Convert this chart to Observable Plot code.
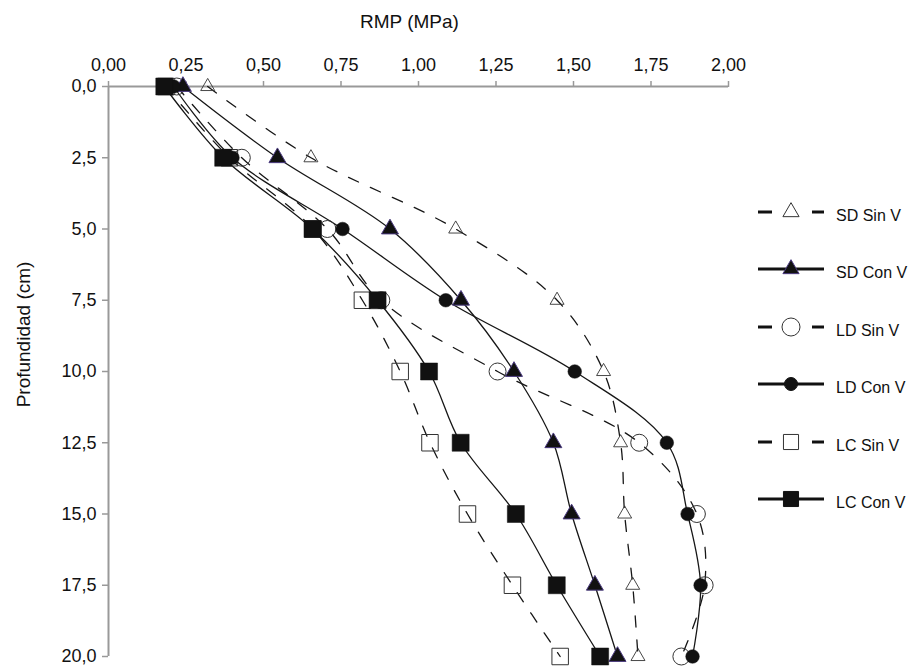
<!DOCTYPE html>
<html><head><meta charset="utf-8">
<script src="https://cdn.jsdelivr.net/npm/d3@7"></script>
<script src="https://cdn.jsdelivr.net/npm/@observablehq/plot@0.6"></script>
<style>
body{margin:0;background:#fff;}
#wrap{position:relative;width:912px;height:666px;font-family:"Liberation Sans",Arial,sans-serif;color:#111;}
#wrap svg{position:absolute;left:0;top:0;}
</style></head><body><div id="wrap"></div>
<script>
// Depths (cm)
const depths = [0, 2.5, 5, 7.5, 10, 12.5, 15, 17.5, 20];
// RMP values (MPa) per series
const sdSinV = [0.32, 0.653, 1.12, 1.447, 1.597, 1.652, 1.665, 1.691, 1.708];
const sdConV = [0.24, 0.545, 0.908, 1.137, 1.308, 1.435, 1.494, 1.569, 1.642];
const ldSinV = [0.22, 0.43, 0.706, 0.88, 1.255, 1.712, 1.898, 1.923, 1.848];
const ldConV = [0.21, 0.40, 0.755, 1.088, 1.504, 1.801, 1.868, 1.91, 1.884];
const lcSinV = [0.185, 0.39, 0.66, 0.819, 0.941, 1.037, 1.158, 1.303, 1.457];
const lcConV = [0.18, 0.37, 0.658, 0.868, 1.034, 1.136, 1.314, 1.446, 1.586];
const seriesNames = ["SD Sin V", "SD Con V", "LD Sin V", "LD Con V", "LC Sin V", "LC Con V"];
const xTicks = [0, 0.25, 0.5, 0.75, 1, 1.25, 1.5, 1.75, 2];
const yTicks = [0, 2.5, 5, 7.5, 10, 12.5, 15, 17.5, 20];
const xLabel = "RMP (MPa)";
const yLabel = "Profundidad (cm)";

const FONT = '"Liberation Sans",Arial,sans-serif';
const valuesBy = [sdSinV, sdConV, ldSinV, ldConV, lcSinV, lcConV];
const styles = {
  "SD Sin V": {dash: true, symbol: "triangle", r: 5.2, fill: "none", stroke: "#333", sw: 0.9},
  "SD Con V": {dash: false, symbol: "triangle", r: 6.3, fill: "#111", stroke: "#4b3b80", sw: 1},
  "LD Sin V": {dash: true, symbol: "circle", r: 8.5, fill: "none", stroke: "#333", sw: 1},
  "LD Con V": {dash: false, symbol: "circle", r: 6.8, fill: "#111", stroke: "#111", sw: 0.5},
  "LC Sin V": {dash: true, symbol: "square", r: 9.3, fill: "none", stroke: "#333", sw: 1},
  "LC Con V": {dash: false, symbol: "square", r: 9.6, fill: "#111", stroke: "#111", sw: 0.5}
};
const data = seriesNames.map((name, i) => depths.map((d, j) => ({series: name, depth: d, rmp: valuesBy[i][j]})));
const comma = (f) => (v) => d3.format(f)(v).replace(".", ",");

const lineMarks = data.map((rows, i) => {
  const s = styles[seriesNames[i]];
  return Plot.line(rows, {x: "rmp", y: "depth", curve: "catmull-rom", stroke: "#161616", strokeWidth: 1.3,
    strokeDasharray: s.dash ? "11,13" : null});
});
const dotOrder = [0, 2, 4, 1, 3, 5];
const dotMarks = dotOrder.map((i) => {
  const s = styles[seriesNames[i]];
  return Plot.dot(data[i], {x: "rmp", y: "depth", symbol: s.symbol, r: s.r, fill: s.fill, stroke: s.stroke, strokeWidth: s.sw});
});

const chart = Plot.plot({
  width: 912, height: 666,
  marginLeft: 108, marginRight: 184, marginTop: 86, marginBottom: 10,
  style: {fontFamily: FONT, fontSize: "18px", color: "#111", background: "transparent"},
  x: {domain: [0, 2]},
  y: {domain: [0, 20], reverse: true},
  marks: [
    Plot.axisX({anchor: "top", ticks: xTicks, tickFormat: comma(".2f"), tickSize: 6, tickPadding: 10, stroke: "#999", strokeWidth: 1.5,
      fontSize: 18, fontFamily: FONT, label: null}),
    Plot.axisY({anchor: "left", ticks: yTicks, tickFormat: comma(".1f"), tickSize: 6, tickPadding: 6, stroke: "#999", strokeWidth: 1.5,
      fontSize: 18, fontFamily: FONT, dy: 0, label: null}),
    Plot.text([xLabel], {frameAnchor: "top", dx: -9, dy: -72, fontSize: 19, fontFamily: FONT, fill: "#111"}),
    Plot.text([yLabel], {frameAnchor: "left", textAnchor: "middle", rotate: -90, dx: -85, dy: -37, fontSize: 19, fontFamily: FONT, fill: "#111"}),
    Plot.ruleY([0], {stroke: "#999", strokeWidth: 2}),
    Plot.ruleX([0], {stroke: "#999", strokeWidth: 2}),
    ...lineMarks,
    ...dotMarks
  ]
});
document.getElementById("wrap").appendChild(chart);

// Legend
const lg = d3.select("#wrap").append("svg").attr("width", 912).attr("height", 666).style("pointer-events", "none");
const rowY = [212, 269, 327, 384, 442, 499];
const symTypes = {triangle: d3.symbolTriangle, circle: d3.symbolCircle, square: d3.symbolSquare};
const legendR = {"SD Sin V": 6, "SD Con V": 6, "LD Sin V": 9, "LD Con V": 6.5, "LC Sin V": 8.5, "LC Con V": 8.5};
seriesNames.forEach((name, i) => {
  const s = styles[name];
  const g = lg.append("g").attr("transform", `translate(0,${rowY[i]})`);
  if (s.dash) {
    g.append("line").attr("x1", 758).attr("x2", 772).attr("y1", 0).attr("y2", 0).attr("stroke", "#111").attr("stroke-width", 3);
    g.append("line").attr("x1", 812).attr("x2", 824).attr("y1", 0).attr("y2", 0).attr("stroke", "#111").attr("stroke-width", 3);
  } else {
    g.append("line").attr("x1", 758).attr("x2", 824).attr("y1", 0).attr("y2", 0).attr("stroke", "#111").attr("stroke-width", 3);
  }
  const r = legendR[name];
  g.append("path").attr("transform", "translate(791,0)")
    .attr("d", d3.symbol(symTypes[s.symbol], r * r * Math.PI)())
    .attr("fill", s.fill === "none" ? "#fff" : s.fill).attr("stroke", s.stroke).attr("stroke-width", 1);
  g.append("text").attr("x", 836).attr("y", 3).attr("dy", "0.35em").attr("font-size", 16)
    .attr("font-family", FONT).attr("fill", "#111").text(name);
});
</script></body></html>
